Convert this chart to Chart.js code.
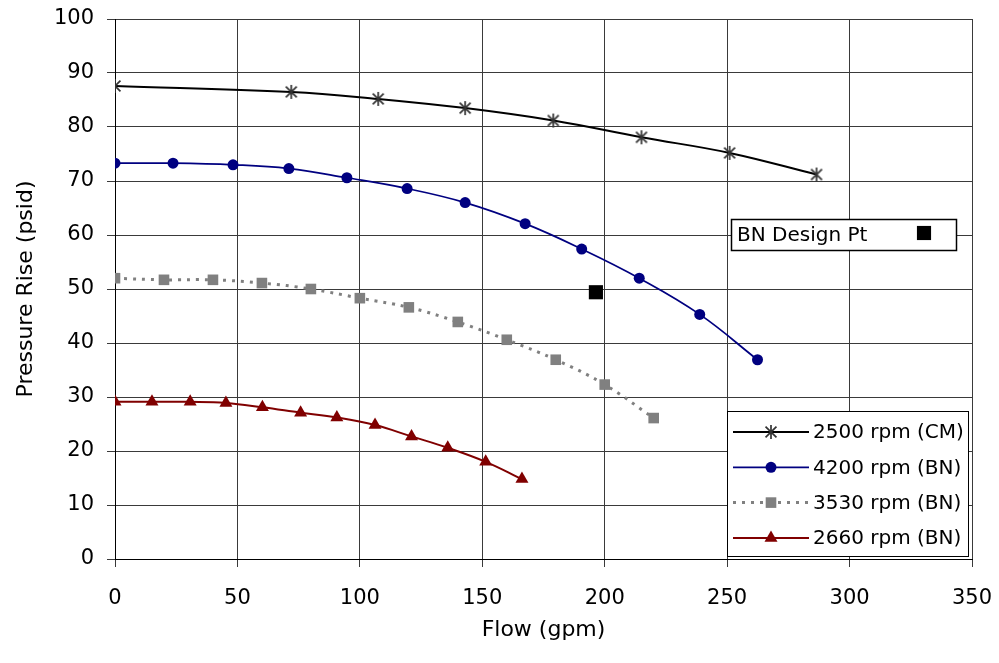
<!DOCTYPE html>
<html>
<head>
<meta charset="utf-8">
<script src="https://cdn.jsdelivr.net/npm/chart.js@4.4.1/dist/chart.umd.min.js"></script>
<style>
  html, body { margin: 0; padding: 0; background: #fff; }
  #wrap { width: 999px; height: 663px; position: relative; }
</style>
</head>
<body>
<div id="wrap"><canvas id="c" width="999" height="663"></canvas></div>
<script>
// ---- data ----
const flow2500 = [0, 72, 107.5, 143, 179, 215, 251, 286.5];
const rise2500 = [87.6, 86.5, 85.2, 83.5, 81.2, 78.1, 75.2, 71.2];

const flow4200 = [0, 23.7, 48.2, 71, 94.7, 119.3, 143, 167.5, 190.6, 214.1, 238.8, 262.4];
const rise4200 = [73.3, 73.3, 73.0, 72.3, 70.6, 68.6, 66.0, 62.1, 57.4, 52.0, 45.3, 36.9];

const flow3530 = [0, 20, 40, 60, 80, 100, 120, 140, 160, 180, 200, 220];
const rise3530 = [52.0, 51.7, 51.7, 51.1, 50.0, 48.3, 46.6, 43.9, 40.6, 36.9, 32.3, 26.1];

const flow2660 = [0, 15.1, 30.7, 45.3, 60.2, 75.8, 90.6, 106.2, 121.1, 135.9, 151.4, 166.2];
const rise2660 = [29.1, 29.1, 29.1, 28.9, 28.1, 27.1, 26.2, 24.8, 22.7, 20.6, 18.0, 14.8];

const designFlow = [196.4];
const designRise = [49.4];

const seriesLabels = ['2500 rpm (CM)', '4200 rpm (BN)', '3530 rpm (BN)', '2660 rpm (BN)', 'BN Design Pt'];
const xTickLabels = ['0', '50', '100', '150', '200', '250', '300', '350'];
const yTickLabels = ['0', '10', '20', '30', '40', '50', '60', '70', '80', '90', '100'];
const xTitle = 'Flow (gpm)';
const yTitle = 'Pressure Rise (psid)';

// ---- helpers ----
const pts = (xs, ys) => xs.map((v, i) => ({ x: v, y: ys[i] }));

// asterisk marker (X plus vertical bar), like Excel's star marker
function makeStar(size, color) {
  const cv = document.createElement('canvas');
  cv.width = size; cv.height = size;
  const c = cv.getContext('2d');
  c.strokeStyle = color; c.lineWidth = 1.7; c.lineCap = 'butt';
  const m = size / 2, r = size / 2 - 1, d = r * 0.78;
  c.beginPath();
  c.moveTo(m, m - r); c.lineTo(m, m + r);
  c.moveTo(m - d, m - d); c.lineTo(m + d, m + d);
  c.moveTo(m - d, m + d); c.lineTo(m + d, m - d);
  c.stroke();
  return cv;
}
const starImg = makeStar(16, '#333333');

Chart.defaults.font.family = '"DejaVu Sans", "Liberation Sans", Arial, sans-serif';
Chart.defaults.color = '#000';

const datasets = [
  {
    label: seriesLabels[0], data: pts(flow2500, rise2500), showLine: true,
    borderColor: '#000000', borderWidth: 2, tension: 0.4,
    pointStyle: starImg, pointRadius: 7, pointBackgroundColor: '#333', pointBorderColor: '#333'
  },
  {
    label: seriesLabels[1], data: pts(flow4200, rise4200), showLine: true,
    borderColor: '#000080', borderWidth: 1.75, tension: 0.4,
    pointStyle: 'circle', pointRadius: 5.5, pointBorderWidth: 0,
    pointBackgroundColor: '#000080', pointBorderColor: '#000080'
  },
  {
    label: seriesLabels[2], data: pts(flow3530, rise3530), showLine: true,
    borderColor: '#808080', borderWidth: 3, borderDash: [3, 6], tension: 0.4,
    pointStyle: 'rect', pointRadius: 7.5, pointBorderWidth: 0,
    pointBackgroundColor: '#808080', pointBorderColor: '#808080'
  },
  {
    label: seriesLabels[3], data: pts(flow2660, rise2660), showLine: true,
    borderColor: '#800000', borderWidth: 2, tension: 0.4,
    pointStyle: 'triangle', pointRadius: 7.5, pointBorderWidth: 0,
    pointBackgroundColor: '#800000', pointBorderColor: '#800000'
  },
  {
    label: seriesLabels[4], data: pts(designFlow, designRise), showLine: false,
    pointStyle: 'rect', pointRadius: 10, pointBorderWidth: 0,
    pointBackgroundColor: '#000', pointBorderColor: '#000'
  }
];

function drawMarker(ctx, ds, x, y) {
  ctx.save();
  ctx.setLineDash([]);
  ctx.fillStyle = ds.pointBackgroundColor;
  ctx.strokeStyle = ds.pointBorderColor;
  const ps = ds.pointStyle, r = ds.pointRadius;
  if (ps instanceof HTMLCanvasElement) {
    ctx.drawImage(ps, x - ps.width / 2, y - ps.height / 2);
  } else if (ps === 'circle') {
    ctx.beginPath(); ctx.arc(x, y, r, 0, Math.PI * 2); ctx.fill();
  } else if (ps === 'rect') {
    const s = r * Math.SQRT1_2;
    ctx.fillRect(x - s, y - s, 2 * s, 2 * s);
  } else if (ps === 'triangle') {
    ctx.beginPath();
    for (let k = 0; k < 3; k++) {
      const a = k * 2 * Math.PI / 3;
      const px = x + Math.sin(a) * r, py = y - Math.cos(a) * r;
      if (k === 0) ctx.moveTo(px, py); else ctx.lineTo(px, py);
    }
    ctx.closePath(); ctx.fill();
  }
  ctx.restore();
}

const legendPlugin = {
  id: 'boxedLegends',
  afterDraw(chart) {
    const ctx = chart.ctx;
    const dsets = chart.data.datasets;
    ctx.save();
    ctx.font = '20px ' + Chart.defaults.font.family;
    ctx.textBaseline = 'middle';
    ctx.textAlign = 'left';

    // main legend box
    const bx = 727.5, by = 411.5, bw = 241, bh = 145;
    ctx.fillStyle = '#fff';
    ctx.fillRect(bx, by, bw, bh);
    ctx.strokeStyle = '#000'; ctx.lineWidth = 1;
    ctx.strokeRect(bx, by, bw, bh);
    for (let i = 0; i < 4; i++) {
      const ds = dsets[i];
      const y = 432 + i * 35.3;
      ctx.save();
      ctx.strokeStyle = ds.borderColor;
      ctx.lineWidth = ds.borderWidth;
      ctx.setLineDash(ds.borderDash || []);
      ctx.beginPath(); ctx.moveTo(733, y); ctx.lineTo(809, y); ctx.stroke();
      ctx.restore();
      drawMarker(ctx, ds, 771, y);
      ctx.fillStyle = '#000';
      ctx.fillText(ds.label, 813, y + 1);
    }

    // design point box
    const dx = 731.5, dy = 219.5, dw = 225, dh = 31;
    ctx.fillStyle = '#fff';
    ctx.fillRect(dx, dy, dw, dh);
    ctx.strokeStyle = '#000'; ctx.lineWidth = 1.5;
    ctx.strokeRect(dx, dy, dw, dh);
    ctx.fillStyle = '#000';
    ctx.fillText(dsets[4].label, 737, 236);
    drawMarker(ctx, dsets[4], 924, 233);
    ctx.restore();
  }
};

new Chart(document.getElementById('c'), {
  type: 'scatter',
  data: { datasets },
  options: {
    responsive: false,
    animation: false,
    devicePixelRatio: 1,
    layout: { padding: { top: 19, right: 27, left: 0, bottom: 0 } },
    plugins: { legend: { display: false }, tooltip: { enabled: false } },
    scales: {
      x: {
        type: 'linear', min: 0, max: 350,
        ticks: {
          stepSize: 50, padding: 19, font: { size: 21 }, maxRotation: 0,
          callback: (v) => xTickLabels[Math.round(v / 50)] ?? ''
        },
        grid: { color: '#3a3a3a', lineWidth: 1, tickLength: 8, tickColor: '#3a3a3a' },
        border: { color: '#000', width: 1 },
        title: { display: true, text: xTitle, font: { size: 22 }, padding: { top: 0, bottom: 20 } },
        afterFit: (s) => { s.height = 104; s.paddingLeft = 0; s.paddingRight = 0; }
      },
      y: {
        type: 'linear', min: 0, max: 100,
        ticks: {
          stepSize: 10, padding: 13, font: { size: 21 },
          callback: (v) => yTickLabels[Math.round(v / 10)] ?? ''
        },
        grid: { color: '#3a3a3a', lineWidth: 1, tickLength: 8, tickColor: '#3a3a3a' },
        border: { color: '#000', width: 1 },
        title: { display: true, text: yTitle, font: { size: 22 }, padding: { top: 13.5, bottom: 0 } },
        afterFit: (s) => { s.width = 115; s.paddingTop = 0; s.paddingBottom = 0; }
      }
    }
  },
  plugins: [legendPlugin]
});
</script>
</body>
</html>
